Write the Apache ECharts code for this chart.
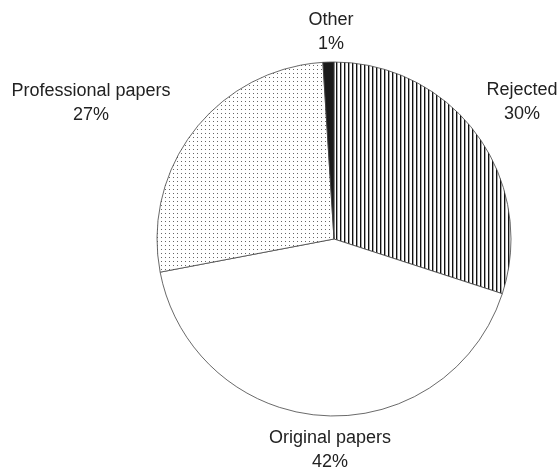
<!DOCTYPE html>
<html>
<head>
<meta charset="utf-8">
<script src="https://cdn.jsdelivr.net/npm/echarts@6/dist/echarts.min.js"></script>
<style>
html,body{margin:0;padding:0;background:#fff;}
#chart{width:560px;height:468px;}
</style>
</head>
<body>
<div id="chart"></div>
<script>
// Data
var categories = ['Rejected', 'Original papers', 'Professional papers', 'Other'];
var shares = [30, 42, 27, 1];

// Fill patterns
function linePattern() {
  var c = document.createElement('canvas');
  c.width = 4; c.height = 4;
  var g = c.getContext('2d');
  g.fillStyle = '#fff'; g.fillRect(0, 0, 4, 4);
  g.fillStyle = '#111'; g.fillRect(0, 0, 1, 4);
  g.fillStyle = 'rgba(0,0,0,0.35)'; g.fillRect(1, 0, 1, 4);
  return c;
}
function dotPattern() {
  var c = document.createElement('canvas');
  c.width = 4; c.height = 4;
  var g = c.getContext('2d');
  g.fillStyle = '#fff'; g.fillRect(0, 0, 4, 4);
  g.fillStyle = '#666'; g.fillRect(1, 1, 1, 1);
  return c;
}
var fills = [
  { image: linePattern(), repeat: 'repeat' },
  '#ffffff',
  { image: dotPattern(), repeat: 'repeat' },
  '#1a1a1a'
];

// Label placement (layout only)
var labelPos = [[522, 102], [330, 450], [91, 103], [331, 32]];

var chart = echarts.init(document.getElementById('chart'), null, { renderer: 'canvas' });
chart.setOption({
  animation: false,
  backgroundColor: '#fff',
  series: [{
    type: 'pie',
    center: [334, 239],
    radius: 177,
    startAngle: 90,
    clockwise: true,
    avoidLabelOverlap: false,
    itemStyle: { borderColor: '#444', borderWidth: 0.8 },
    emphasis: { disabled: true },
    label: {
      show: true,
      position: 'outside',
      formatter: function (p) { return p.name + '\n' + p.value + '%'; },
      fontFamily: '"Liberation Sans", Arial, Helvetica, sans-serif',
      fontSize: 18,
      lineHeight: 24,
      color: '#222',
      align: 'center'
    },
    labelLine: { show: false },
    labelLayout: function (params) {
      var p = labelPos[params.dataIndex];
      return { x: p[0], y: p[1], align: 'center', verticalAlign: 'middle' };
    },
    data: categories.map(function (name, i) {
      return { name: name, value: shares[i], itemStyle: { color: fills[i] } };
    })
  }]
});
</script>
</body>
</html>
